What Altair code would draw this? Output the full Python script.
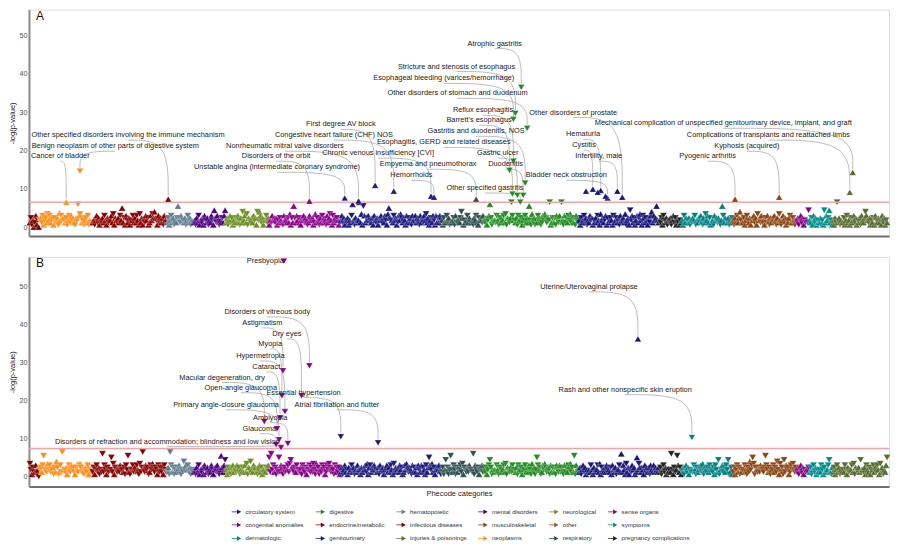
import altair as alt
import pandas as pd

# ---------------- categories (phecode order) ----------------
CATEGORIES = [
    "infectious diseases", "neoplasms", "endocrine/metabolic", "hematopoietic",
    "mental disorders", "neurological", "sense organs", "circulatory system",
    "respiratory", "digestive", "genitourinary", "pregnancy complications",
    "dermatologic", "musculoskeletal", "congenital anomalies", "symptoms",
    "injuries & poisonings",
]
COUNTS = [10, 54, 76, 27, 33, 44, 73, 103, 44, 96, 82, 23, 52, 65, 13, 24, 56]

# legend entries, filled column by column (3 rows x 6 columns)
LEGEND_ORDER = [
    "circulatory system", "congenital anomalies", "dermatologic",
    "digestive", "endocrine/metabolic", "genitourinary",
    "hematopoietic", "infectious diseases", "injuries & poisonings",
    "mental disorders", "musculoskeletal", "neoplasms",
    "neurological", "other", "respiratory",
    "sense organs", "symptoms", "pregnancy complications",
]
COLORS = {
    "circulatory system": "#1a1a80", "digestive": "#228b22", "hematopoietic": "#607b8b",
    "mental disorders": "#4b0082", "neurological": "#6b8e23", "sense organs": "#8b008b",
    "congenital anomalies": "#800080", "endocrine/metabolic": "#8b0000", "infectious diseases": "#800000",
    "musculoskeletal": "#8b4513", "other": "#a0522d", "symptoms": "#008b8b",
    "dermatologic": "#008080", "genitourinary": "#16167a", "injuries & poisonings": "#556b2f",
    "neoplasms": "#ff8c1a", "respiratory": "#2f4f4f", "pregnancy complications": "#222222",
}

# code letter -> -log(p) value used in the strings below
LEVELS = {"0": 0.0, "1": 0.6, "2": 1.2, "3": 1.8, "4": 2.4, "5": 3.0, "6": 3.4, "7": 3.7,
          "8": 4.0, "9": 4.4, "a": 5.0, "b": 5.5, "c": 6.0, "d": 6.5}

# ---------------- background -log(p) values, panel A ----------------
A_VALS = {
    "infectious diseases": "2413025130",
    "neoplasms": "3425134263 5234142341 7254332413 525342143c 5642313425 1322",
    "endocrine/metabolic": "2313524132 4253142335 2614324253 a241532413 3524253162 4132534125 3648431524 241532",
    "hematopoietic": "2413524132 4b42533241 3524132",
    "mental disorders": "2314251324 1532413253 1942531324 259",
    "neurological": "2413524132 4253142835 2614324253 4183852413 3524",
    "sense organs": "1325342413 2432153324 26142b4253 4213352431 2533412624 3142524315 2463152434 312",
    "circulatory system": "3524132413 25c314233d 261b524353 3241532413 352425316a 4332534125 3642431524 2415325243 1524253624 1342531524 253",
    "respiratory": "3142253412 2341523324 8413235242 2314352143 4253",
    "digestive": "24135c4132 3253142335 2614324d53 3241532413 35242b3162 4132534125 364243d124 24153252d3 1524253624 241532",
    "genitourinary": "3142352413 2534132425 3162423514 2343152342 4153242613 4193524135 2463154243 142582534b 32",
    "pregnancy complications": "3241532413 2413524132 132",
    "dermatologic": "3152432413 2435132425 3142635241 2315342431 3b52432413 24",
    "musculoskeletal": "3142524832 2413532413 3524163425 2314253142 4253142631 3524132452 24313",
    "congenital anomalies": "2413524132 329",
    "symptoms": "3241524132 2413192534 9231",
    "injuries & poisonings": "3142d24132 2413523142 3524132415 3248532413 2415324231 524132",
}
A_DIRS = {
    "infectious diseases": "udduuduudu",
    "neoplasms": "dudduddudu duddudduud uddudduddu dduduududd udduddudud dudu",
    "endocrine/metabolic": "uuduuduuud uuduuudduu uduuuduudu uuduuduuud uduuuduudu uudduuduuu uduuuduudu uuduud",
    "hematopoietic": "uduuduuduu dudduuduud uduudud",
    "mental disorders": "uuduuduudu uuduuduuud uuuduuduud uuu",
    "neurological": "uuduudduuu duudduuduu uddudduuud uudduuduud uddu",
    "sense organs": "uuduuuduud uduuduuuud uuuduuduuu duuduuduud uuduuuduud uduuduuudu uuduuduuud uud",
    "circulatory system": "uuduuuduuu uduuduuuuu uuuduuduuu duuuuuduud uuduuuduuu uduuduuudu uuduuuuuud uuduuduuuu duuuduuduu uuduuduuud uud",
    "respiratory": "uuduuduudu uudduduuud duuduuduud uuduuduudu uduu",
    "digestive": "duuduuddud udduddudud uddudduddu duuddudduu dduuuuddud uddudduddu duddudduud uddudduddu dudduddudd uddudd",
    "genitourinary": "uuduuduudu uuduuduuud uuuduuduud uuduuduudu uduuduuudu uudduuduuu uduuuduudu uuduuuuuuu uu",
    "pregnancy complications": "uddudduudu duduudduud udu",
    "dermatologic": "uuduuduudu duudduuudu uduuduuudu uuduuuduud uuduuduudu ud",
    "musculoskeletal": "uduuduuudu uduudduuud uuduuduudu duudduuduu uduuduudud uuduuduudu ududu",
    "congenital anomalies": "dudduduudd udd",
    "symptoms": "uuduuduudu uudduduuud uudu",
    "injuries & poisonings": "uuudduuduu uduuduuudu uuduuduudu uuuduuduud uduuduuudu uduudu",
}

# ---------------- background values, panel B ----------------
B_VALS = {
    "infectious diseases": "6314225130",
    "neoplasms": "3425b34263 5234142841 252d332413 5253421432 5642313425 1322",
    "endocrine/metabolic": "2413524132 c25314233a 2614324253 324153b213 3524253162 4d32534125 3642431524 241532",
    "hematopoietic": "241d524132 4253132835 3524132",
    "mental disorders": "2314251324 1532413253 13425313b4 259",
    "neurological": "3142413524 2534132425 2614383253 4213524132 2435",
    "sense organs": "a2c3524132 a253142335 2694324253 3241532413 3524263162 4132534125 3642431524 241",
    "circulatory system": "2413523142 3524132533 1423352614 5243533241 5324133524 2531624332 5341253642 4315242415 3252431524 a536241342 531",
    "respiratory": "241392413b 3253142335 2614324253 32c1532413 3524",
    "digestive": "2413594132 3253142335 2614324253 3241532413 3524253162 413a534125 3642431524 2415325243 1524253624 2b1532",
    "genitourinary": "2413524132 3253142335 2614324253 3241532413 352c253162 413253412a 3642431524 2415325243 24",
    "pregnancy complications": "2413524132 32c31423b5 241",
    "dermatologic": "2413524132 3253142335 2614324253 3241532913 3524253912 41",
    "musculoskeletal": "2413524132 3253142835 a614324253 324b532413 3524283162 4192534125 36424",
    "congenital anomalies": "2413524132 324",
    "symptoms": "2413524132 3253142335 9214",
    "injuries & poisonings": "2413524132 3253142335 2614324293 3241532413 3524253162 41325a",
}
B_DIRS = {
    "infectious diseases": "ddudduudud",
    "neoplasms": "ddudddudud dddudduudd udddudduud ddudddudud dudduddudd uddd",
    "endocrine/metabolic": "dduddduddd dddduddudd ddudddudud dudddddudd dddudduddd ddddudddud dudddduddd dduddd",
    "hematopoietic": "dudddudddu dduddddddu udduddd",
    "mental disorders": "uuduuduudu uuduuduuud uuuduuduuu uud",
    "neurological": "uuduudduuu duudduuduu uddudduuud uudduuduud uddu",
    "sense organs": "dddddudddd ddudddddud dddudddudd ddudddddud ddddddddud dduddddudd ddddudddud ddu",
    "circulatory system": "uuduuuduuu uduuduuuuu uuuduuduuu duuuuuduud uuduuuduuu uduuduuudu uuduuuuuud uuduuduuuu duuuduuduu duduuduuud uud",
    "respiratory": "dddudddddd dudddduddd ddudddudud ddddudddud dudd",
    "digestive": "dduddddduu udduddudud uddudduddu duuddudduu dduuuuddud uddddudduu duddudduud uddudduddu dudduddudd udduud",
    "genitourinary": "uuduuduuuu uuduuuuuud uuuduuuuud uuduuuuudu uduuuuuudu uudduuuuuu uduuuuuudu uuduuuuuuu uu",
    "pregnancy complications": "uddudduudu dudduddudu udu",
    "dermatologic": "dudduduudd uddudduudu duduuddudd uddudduddu dudduddddu du",
    "musculoskeletal": "dduddudddu dddudddudd ddddudddud dddddduddu dduddddudd dddduddudd ddudd",
    "congenital anomalies": "dudduduudd udd",
    "symptoms": "uddudduudu dudduduuud dudu",
    "injuries & poisonings": "uduuduuduu dudduuduud uddudduudu uduuduudud uduudduudu uduuud",
}

# ---------------- significant / annotated points, panel A ----------------
A_SIG_LABEL = [
    "Cancer of bladder", "Benign neoplasm of other parts of digestive system",
    "Other specified disorders involving the immune mechanism",
    "Unstable angina (intermediate coronary syndrome)", "Disorders of the orbit",
    "Nonrheumatic mitral valve disorders", "Congestive heart failure (CHF) NOS", "First degree AV block",
    "Chronic venous insufficiency [CVI]", "Hemorrhoids", "Empyema and pneumothorax",
    "Atrophic gastritis", "Stricture and stenosis of esophagus", "Esophageal bleeding (varices/hemorrhage)",
    "Other disorders of stomach and duodenum", "Reflux esophagitis", "Barrett's esophagus",
    "Gastritis and duodenitis, NOS", "Esophagitis, GERD and related diseases", "Gastric ulcer",
    "Duodenitis", "Other specified gastritis",
    "Other disorders of prostate", "Hematuria", "Cystitis", "Infertility, male", "Bladder neck obstruction",
    "", "", "",
    "Pyogenic arthritis", "Kyphosis (acquired)", "Complications of transplants and reattached limbs",
    "Mechanical complication of unspecified genitourinary device, implant, and graft",
]
A_SIG_X = [37, 51, 141, 321, 285, 335, 371, 352, 409, 412, 455,
           501, 495, 493, 507, 493, 489, 505, 492, 497, 503, 500,
           604, 582, 574, 599, 589, 567, 579, 587,
           719, 764, 836, 839]
A_SIG_Y = [6.5, 14.6, 7.3, 7.6, 6.8, 6.8, 9.4, 10.9, 8.1, 7.8, 7.3,
           36.5, 29.7, 28.1, 25.8, 17.2, 14.8, 11.5, 8.6, 8.3, 8.3, 6.5,
           7.8, 9.6, 9.9, 9.4, 7.6, 9.4, 9.1, 8.1,
           7.3, 7.8, 9.1, 14.3]
A_SIG_DIR = ["up", "down", "up", "up", "up", "up", "up", "up", "up", "up", "up",
             "down", "down", "down", "down", "down", "down", "down", "down", "down", "down", "down",
             "up", "up", "up", "up", "up", "up", "up", "up",
             "up", "up", "up", "up"]
A_SIG_CAT = ["neoplasms", "neoplasms", "endocrine/metabolic", "circulatory system", "sense organs",
             "circulatory system", "circulatory system", "circulatory system", "circulatory system",
             "circulatory system", "respiratory"] + ["digestive"] * 11 + ["genitourinary"] * 8 + \
            ["musculoskeletal", "musculoskeletal", "injuries & poisonings", "injuries & poisonings"]
A_LAB_X = [31, 87, 100, 252, 251, 260, 310, 317, 355, 389, 406,
           474, 435, 422, 436, 462, 458, 455, 422, 477, 485, 464,
           554, 564, 565, 580, 547, 0, 0, 0,
           691, 731, 753, 707]
A_LAB_Y = [18.5, 21.1, 24.0, 15.6, 18.5, 21.1, 24.0, 26.8, 19.3, 13.5, 16.4,
           47.9, 41.9, 38.8, 34.9, 30.5, 27.9, 25.0, 22.1, 19.3, 16.4, 10.2,
           29.9, 24.2, 21.4, 18.5, 13.5, 0, 0, 0,
           18.5, 21.1, 24.0, 27.1]

# ---------------- significant / annotated points, panel B ----------------
B_SIG_LABEL = [
    "Presbyopia", "Disorders of vitreous body", "Astigmatism", "Dry eyes", "Myopia", "Hypermetropia",
    "Cataract", "Macular degeneration, dry", "Open-angle glaucoma", "Essential hypertension",
    "Atrial fibrillation and flutter", "Primary angle-closure glaucoma", "Amblyopia", "Glaucoma",
    "Disorders of refraction and accommodation; blindness and low vision",
    "Uterine/Uterovaginal prolapse", "Rash and other nonspecific skin eruption",
]
B_SIG_X = [259, 285, 258, 277, 257, 260, 255, 239, 252, 317, 355, 254, 263, 251, 256, 620, 675]
B_SIG_Y = [56.8, 29.2, 27.9, 21.3, 21.3, 17.1, 15.5, 14.5, 12.6, 10.5, 8.9, 9.7, 8.7, 8.4, 7.6, 36.3, 10.3]
B_SIG_DIR = ["down"] * 15 + ["up", "down"]
B_SIG_CAT = ["sense organs"] * 9 + ["circulatory system", "circulatory system"] + ["sense organs"] * 4 + \
            ["genitourinary", "dermatologic"]
B_LAB_X = [240, 242, 237, 262, 245, 235, 241, 196, 215, 279, 313, 200, 245, 234, 140, 570, 607]
B_LAB_Y = [56.8, 43.4, 40.5, 37.6, 35.0, 31.8, 28.9, 26.1, 23.4, 22.1, 18.9, 18.9, 15.5, 12.6, 9.2, 50.0, 22.9]

THRESH_A = 6.5
THRESH_B = 7.4
YDOM_A = [-2.34, 56.77]
YDOM_B = [-2.63, 57.9]
XDOM = [-1, 876]

# ---------------- layout constants ----------------
W = 862
H_A = 227
H_B = 230
ARROW = "M-1,-0.07L0.1,-0.07L0.1,0.07L-1,0.07Z M0.1,-0.5L1,0L0.1,0.5Z"


def build_background(vals, dirs):
    rows = []
    start = 0
    for cat, n in zip(CATEGORIES, COUNTS):
        v = vals[cat].replace(" ", "")
        d = dirs[cat].replace(" ", "")
        for i in range(min(n, len(v), len(d))):
            rows.append({"x": start + i, "y": LEVELS[v[i]],
                         "dir": "up" if d[i] == "u" else "down", "cat": cat})
        start += n
    return pd.DataFrame(rows)


def build_sig(labels, xs, ys, dirs, cats):
    return pd.DataFrame({"x": xs, "y": ys, "dir": dirs, "cat": cats, "label": labels})


def build_text(labels, lx, ly):
    rows = [{"x": a, "y": b, "label": l} for l, a, b in zip(labels, lx, ly) if l]
    return pd.DataFrame(rows)


def build_curves(labels, xs, ys, dirs, lx, ly):
    rows = []
    for l, px, py, d, a, b in zip(labels, xs, ys, dirs, lx, ly):
        if not l or abs(b - py) < 1.5:
            continue
        sy = b - 1.3
        ey = py + 0.9
        rows.append({"x": a, "y": sy, "label": l, "step": 0})
        rows.append({"x": px, "y": sy, "label": l, "step": 1})
        rows.append({"x": px, "y": ey, "label": l, "step": 2})
    return pd.DataFrame(rows)


color_enc = alt.Color(
    "cat:N",
    scale=alt.Scale(domain=LEGEND_ORDER, range=[COLORS[c] for c in LEGEND_ORDER]),
    legend=alt.Legend(
        title=None, orient="none", legendX=203, legendY=498, columns=6,
        symbolType=ARROW, symbolSize=90, symbolStrokeWidth=0,
        labelFontSize=6.2, labelColor="#333333", columnPadding=11, rowPadding=4.5, labelOffset=4,
    ),
)
shape_enc = alt.Shape("dir:N", scale=alt.Scale(domain=["up", "down"], range=["triangle-up", "triangle-down"]),
                      legend=None)


def panel(vals, dirs, sig_lists, thresh, ydom, height, letter, xtitle):
    labels, xs, ys, sdirs, cats, lx, ly = sig_lists
    bg = build_background(vals, dirs)
    sig = build_sig(labels, xs, ys, sdirs, cats)
    txt = build_text(labels, lx, ly)
    cur = build_curves(labels, xs, ys, sdirs, lx, ly)

    xaxis = alt.Axis(title=xtitle, labels=False, ticks=False, grid=False, domainColor="#6e6e6e",
                     domainWidth=2, titleFontSize=7.5, titleFontWeight="normal", titleColor="#222222",
                     titlePadding=3)
    yaxis = alt.Axis(values=[0, 10, 20, 30, 40, 50], title="-log(p-value)", grid=False, ticks=False,
                     domainColor="#8a8a8a", domainWidth=2, labelColor="#555555", labelFontSize=7.2,
                     titleFontSize=7.5, titleFontWeight="normal", titleColor="#222222",
                     labelPadding=2, titlePadding=2)
    X = alt.X("x:Q", scale=alt.Scale(domain=XDOM, nice=False, zero=False), axis=xaxis)
    Y = alt.Y("y:Q", scale=alt.Scale(domain=ydom, nice=False, zero=False), axis=yaxis)

    pts = alt.Chart(bg).mark_point(filled=True, size=48, opacity=1, stroke="white",
                                   strokeWidth=0.35, strokeOpacity=0.7).encode(
        x=X, y=Y, color=color_enc, shape=shape_enc)
    rule = alt.Chart(pd.DataFrame({"y": [thresh]})).mark_rule(color="#f5a3a3", strokeWidth=1.6).encode(y=Y)
    lines = alt.Chart(cur).mark_line(color="#a0a0a0", strokeWidth=0.7, interpolate="basis").encode(
        x=X, y=Y, detail="label:N", order="step:Q")
    spts = alt.Chart(sig).mark_point(filled=True, size=44, opacity=1, stroke="white",
                                     strokeWidth=0.35, strokeOpacity=0.7).encode(
        x=X, y=Y, color=color_enc, shape=shape_enc)
    text = alt.Chart(txt).mark_text(fontSize=7.4, color="#1a1a1a", align="center", baseline="middle").encode(
        x=X, y=Y, text="label:N")
    tag = alt.Chart(pd.DataFrame({"t": [letter]})).mark_text(
        fontSize=12, align="left", baseline="top", color="#111111").encode(
        x=alt.value(7), y=alt.value(1), text="t:N")
    return alt.layer(pts, rule, lines, spts, text, tag).properties(width=W, height=height)


pA = panel(A_VALS, A_DIRS, (A_SIG_LABEL, A_SIG_X, A_SIG_Y, A_SIG_DIR, A_SIG_CAT, A_LAB_X, A_LAB_Y),
           THRESH_A, YDOM_A, H_A, "A", None)
pB = panel(B_VALS, B_DIRS, (B_SIG_LABEL, B_SIG_X, B_SIG_Y, B_SIG_DIR, B_SIG_CAT, B_LAB_X, B_LAB_Y),
           THRESH_B, YDOM_B, H_B, "B", "Phecode categories")

chart = alt.vconcat(pA, pB, spacing=19).properties(padding=0).configure_view(stroke=None).configure(
    font="Liberation Sans")

chart.save("out.html", embed_options={"renderer": "svg", "actions": False})
